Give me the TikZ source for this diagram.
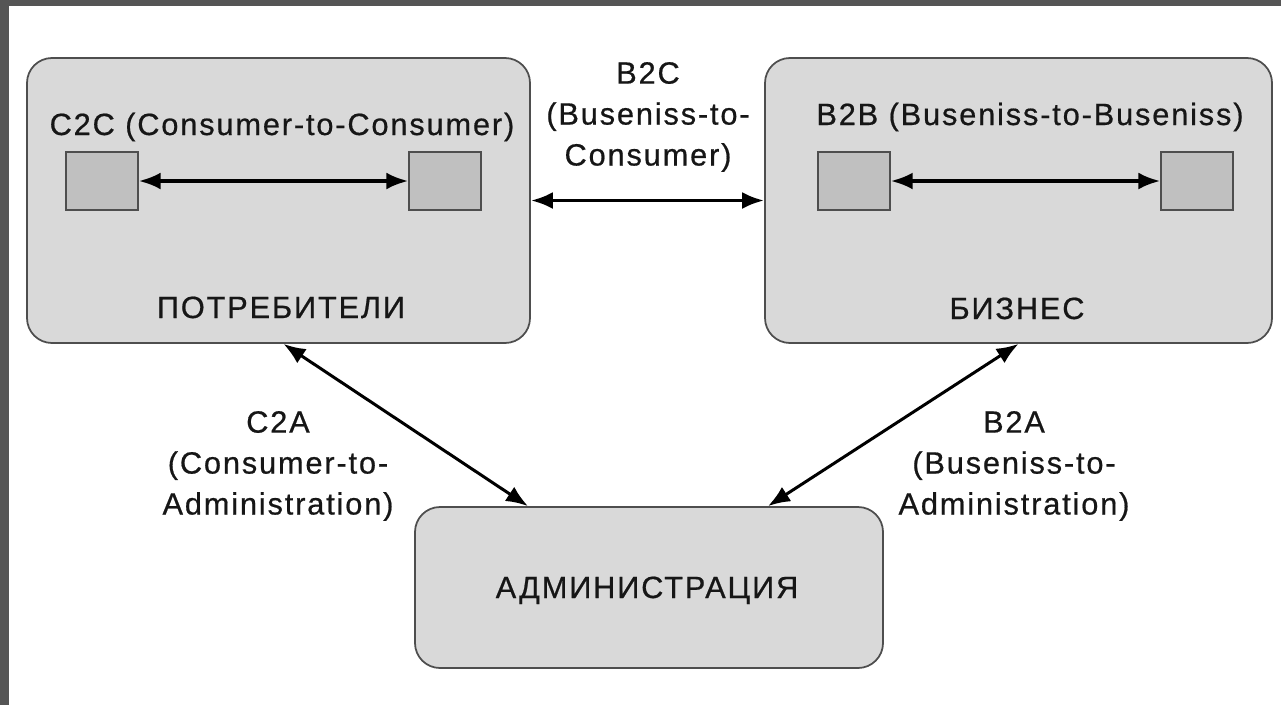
\documentclass[tikz,border=0pt]{standalone}
\usepackage{fontspec}
\setmainfont{Liberation Sans}[LetterSpace=6, FakeBold=0.6]
\usetikzlibrary{arrows.meta}
\definecolor{frameGray}{RGB}{85,85,85}
\definecolor{boxFill}{RGB}{217,217,217}
\definecolor{boxEdge}{RGB}{78,78,78}
\definecolor{cellFill}{RGB}{192,192,192}
\definecolor{inkGray}{RGB}{22,22,22}

\begin{document}
\begin{tikzpicture}[x=0.2mm, y=-0.2mm,
  area/.style={draw=boxEdge, fill=boxFill, line width=1pt, rounded corners=5mm, inner sep=0pt},
  cell/.style={draw=boxEdge, fill=cellFill, line width=0.8pt, minimum width=14.4mm, minimum height=11.6mm, inner sep=0pt},
  link/.style={line width=2.1pt, {Latex[length=4.4mm,width=3.4mm]}-{Latex[length=4.4mm,width=3.4mm]}},
  lbl/.style={text=inkGray, font=\fontsize{17.5}{23.3}\selectfont, inner sep=0pt, align=center}]
\useasboundingbox (0,0) rectangle (1281,705);
\fill[frameGray] (0,0) rectangle (1281,705);
\fill[white] (9,6) rectangle (1281,705);

% three parties
\node[area, minimum width=100.6mm, minimum height=57mm] (cons) at (278.5,200.5) {};
\node[area, minimum width=101.4mm, minimum height=57mm] (bus) at (1018.5,200.5) {};
\node[area, minimum width=93.6mm, minimum height=32.2mm] (admin) at (649,587.5) {};

% participants inside each group
\node[cell] (c1) at (102,181) {};
\node[cell] (c2) at (445,181) {};
\node[cell] (b1) at (854,181) {};
\node[cell] (b2) at (1197,181) {};

\node[lbl, anchor=base] (c2c) at (282,135) {C2C (Consumer-to-Consumer)};
\node[lbl, anchor=base] (b2b) at (1030,125) {B2B (Buseniss-to-Buseniss)};
\node[lbl, anchor=base] (consname) at (281,318) {ПОТРЕБИТЕЛИ};
\node[lbl, anchor=base] (busname) at (1017,319) {БИЗНЕС};
\node[lbl, anchor=base] (adminname) at (647,598) {АДМИНИСТРАЦИЯ};

% relations
\draw[link] (c1) -- (c2);
\draw[link] (b1) -- (b2);
\draw[link] (cons.east) -- (bus.west);
\draw[link, line width=1.7pt] ([xshift=1mm]cons.south) -- ([xshift=-24.2mm]admin.north);
\draw[link, line width=1.7pt] (bus.south) -- ([xshift=23.8mm]admin.north);

\node[lbl] (b2c) at (648,117) {B2C\\(Buseniss-to-\\Consumer)};
\node[lbl] (c2a) at (278,466) {C2A\\(Consumer-to-\\Administration)};
\node[lbl] (b2a) at (1014,466) {B2A\\(Buseniss-to-\\Administration)};
\end{tikzpicture}
\end{document}
